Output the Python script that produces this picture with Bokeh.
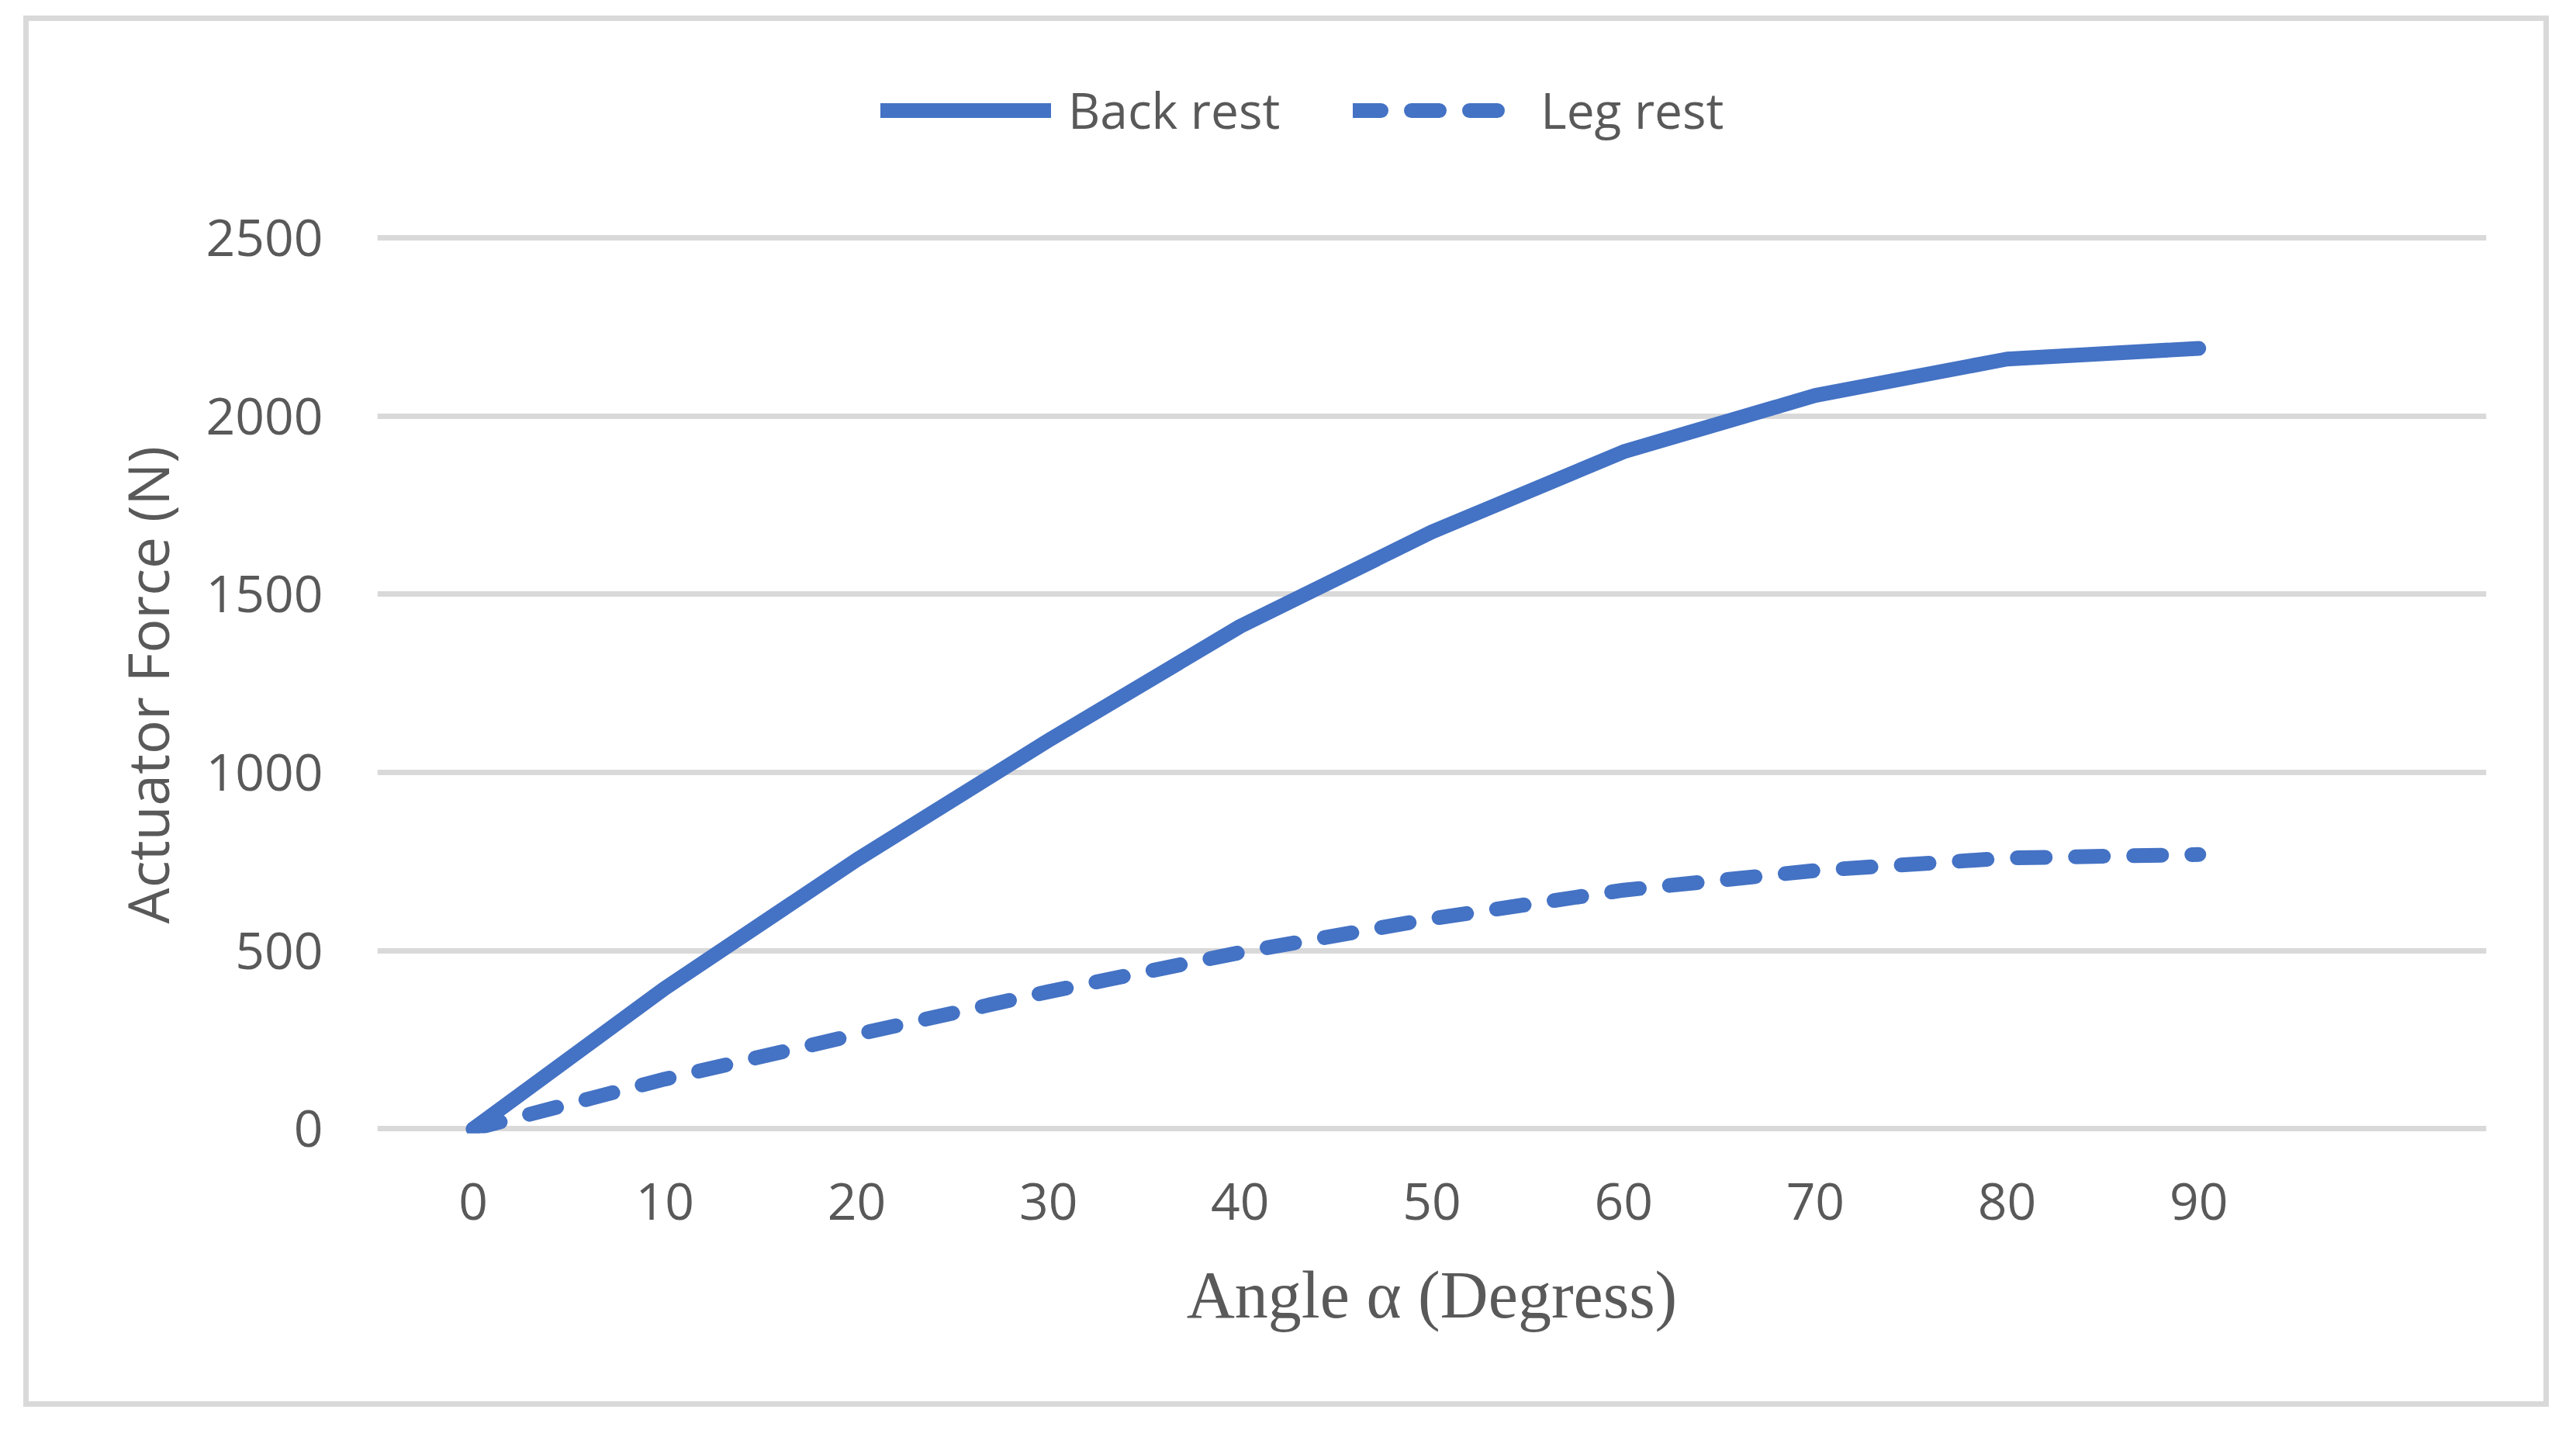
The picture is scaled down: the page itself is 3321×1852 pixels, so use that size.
from bokeh.plotting import figure
from bokeh.models import Legend, LegendItem, FixedTicker, Range1d, Title
from bokeh.embed import file_html
from bokeh.resources import INLINE

# ---- data ----
angles = [0, 10, 20, 30, 40, 50, 60, 70, 80, 90]
back_rest = [0, 395, 755, 1090, 1410, 1675, 1900, 2058, 2160, 2190]
leg_rest = [0, 140, 265, 385, 495, 590, 670, 725, 760, 770]
x_ticks = [0, 10, 20, 30, 40, 50, 60, 70, 80, 90]
y_ticks = [0, 500, 1000, 1500, 2000, 2500]
series_names = ["Back rest", "Leg rest"]
y_title = "Actuator Force (N)"
x_title = "Angle α (Degress)"

BLUE = "#4472C4"
TXT = "#595959"
GRID = "#D9D9D9"

# frame extends above the 2500 line so that the legend sits inside it
p = figure(width=3256, height=1793,
           x_range=Range1d(-5, 105), y_range=Range1d(-12, 3040),
           output_backend="svg", toolbar_location=None,
           min_border_left=449, min_border_right=88,
           min_border_top=31, min_border_bottom=360)
p.margin = (20, 0, 0, 30)
p.styles = {"border": "7px solid #D9D9D9"}
p.background_fill_color = "white"
p.border_fill_color = "white"
p.outline_line_color = None

p.xgrid.grid_line_color = None
p.ygrid.grid_line_color = GRID
p.ygrid.grid_line_width = 7

for ax in (p.xaxis, p.yaxis):
    ax.axis_line_color = None
    ax.major_tick_line_color = None
    ax.minor_tick_line_color = None
    ax.major_tick_out = 0
    ax.major_tick_in = 0
    ax.major_label_text_font = "Open Sans"
    ax.major_label_text_font_size = "66px"
    ax.major_label_text_color = TXT

p.xaxis.ticker = FixedTicker(ticks=x_ticks)
p.yaxis.ticker = FixedTicker(ticks=y_ticks)
p.xaxis.major_label_standoff = 64
p.yaxis.major_label_standoff = 70

# y title placed along the 0..2500 part of the frame
ytitle = Title(text=y_title, align="left", offset=270, standoff=48,
               text_font="Open Sans", text_font_size="73px",
               text_font_style="normal", text_color=TXT)
p.add_layout(ytitle, "left")

p.xaxis.axis_label = x_title
p.xaxis.axis_label_text_font = "Liberation Serif"
p.xaxis.axis_label_text_font_size = "86px"
p.xaxis.axis_label_text_font_style = "normal"
p.xaxis.axis_label_text_color = TXT
p.xaxis.axis_label_standoff = 46

r1 = p.line(angles, back_rest, line_color=BLUE, line_width=19,
            line_cap="round", line_join="round")
r2 = p.line(angles, leg_rest, line_color=BLUE, line_width=19,
            line_cap="round", line_join="round", line_dash="36 39")

legend = Legend(items=[LegendItem(label=series_names[0], renderers=[r1]),
                       LegendItem(label=series_names[1], renderers=[r2])],
                orientation="horizontal", location=(649, 1275),
                glyph_width=220, glyph_height=60, label_standoff=22,
                spacing=94, padding=0, margin=0,
                border_line_color=None, background_fill_alpha=0,
                label_text_font="Open Sans", label_text_font_size="64px",
                label_text_color=TXT)
p.add_layout(legend)

open("out.html", "w").write(file_html(p, INLINE))
